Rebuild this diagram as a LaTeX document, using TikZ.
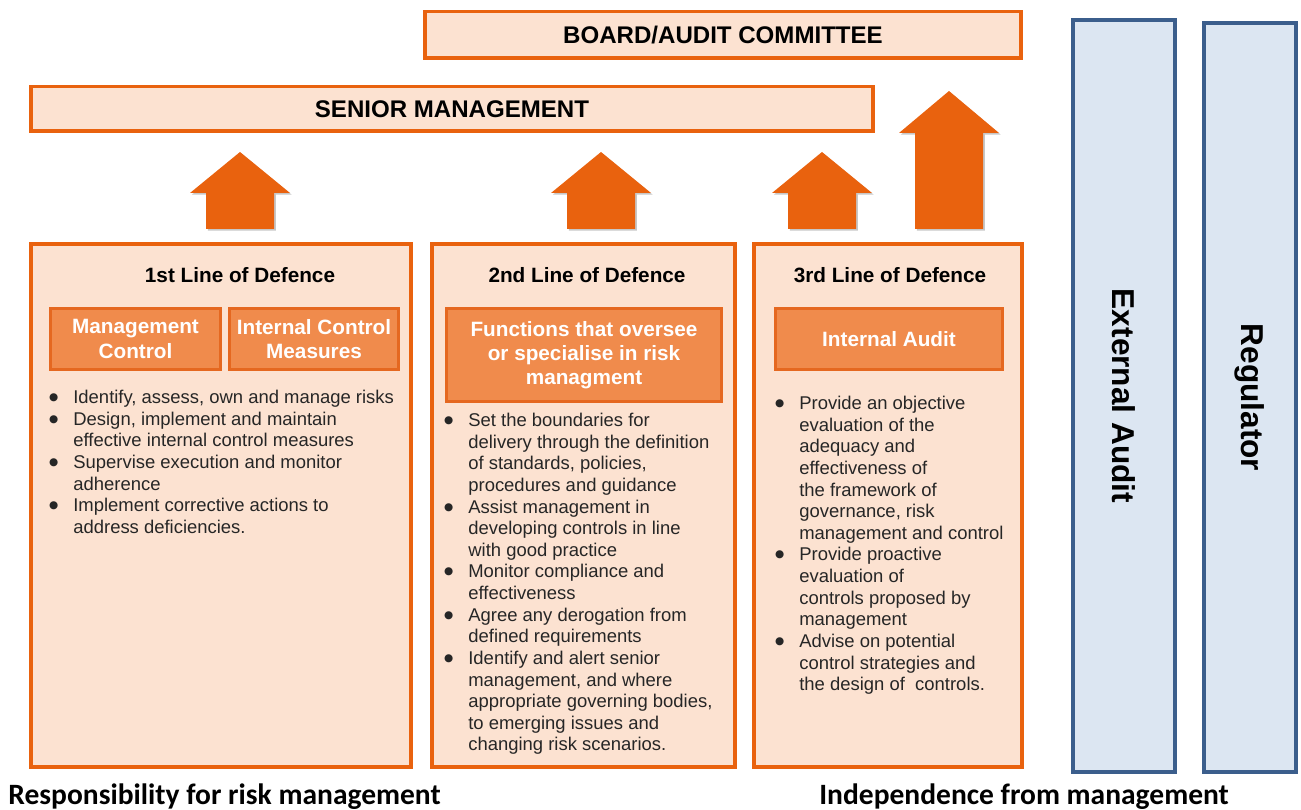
\documentclass[tikz,border=0pt]{standalone}
\usepackage{fontspec}
\setmainfont{Liberation Sans}
\newfontfamily\captionfont{Carlito}
\newfontfamily\dotfont{DejaVu Sans}
\usetikzlibrary{positioning}

\definecolor{lodorange}{RGB}{233,98,14}
\definecolor{lodpeach}{RGB}{252,226,209}
\definecolor{subfill}{RGB}{240,139,76}
\definecolor{subline}{RGB}{229,104,32}
\definecolor{sidefill}{RGB}{220,230,242}
\definecolor{sideline}{RGB}{59,94,140}

\tikzset{
  topbar/.style={draw=lodorange, fill=lodpeach, line width=0.07cm, inner sep=0pt,
    font=\fontsize{13.7}{16}\selectfont\bfseries},
  lodbox/.style={draw=lodorange, fill=lodpeach, line width=0.07cm, inner sep=0pt},
  subbox/.style={draw=subline, fill=subfill, line width=0.06cm, inner sep=0pt,
    text=white, align=center, font=\fontsize{11.8}{13.8}\selectfont\bfseries},
  lodtitle/.style={font=\fontsize{11.8}{14}\selectfont\bfseries},
  bullets/.style={anchor=north west, align=left, inner sep=0pt,
    font=\fontsize{10.5}{12.3}\selectfont, text=black!85},
  sidebar/.style={draw=sideline, fill=sidefill, line width=0.08cm, inner sep=0pt},
  sidelabel/.style={rotate=-90, font=\fontsize{18}{20}\selectfont\bfseries},
  footlabel/.style={anchor=west, inner sep=0pt, font=\captionfont\fontsize{16.8}{18}\selectfont\bfseries}
}

% bullet hanging to the left of a line
\newcommand{\itm}{\llap{\raisebox{1.8pt}{\dotfont\fontsize{6}{6}\selectfont ●}\hspace{0.3cm}}}
% block arrow: centre x, tip y, head base y
\newcommand{\lodarrow}[3]{%
  \fill[black!22, xshift=0.035cm, yshift=-0.035cm] (#1,#2) -- (#1+50,#3) -- (#1+34,#3)
    -- (#1+34,229) -- (#1-34,229) -- (#1-34,#3) -- (#1-50,#3) -- cycle;
  \fill[lodorange] (#1,#2) -- (#1+50,#3) -- (#1+34,#3)
    -- (#1+34,229) -- (#1-34,229) -- (#1-34,#3) -- (#1-50,#3) -- cycle;
}

\begin{document}
\begin{tikzpicture}[x=0.02cm, y=-0.02cm]
    \useasboundingbox (0,0) rectangle (1301,810);

    % Top bars
    \node[topbar, minimum width=11.93cm, minimum height=0.93cm] (board) at (723,35) {BOARD/AUDIT COMMITTEE};
    \node[topbar, minimum width=16.85cm, minimum height=0.89cm] (senior) at (452,109) {SENIOR MANAGEMENT};

    % Arrows up to management and board
    \lodarrow{240}{152}{193}
    \lodarrow{601}{152}{193}
    \lodarrow{822}{152}{193}
    \lodarrow{949}{91}{133}

    % Three lines of defence
    \node[lodbox, minimum width=7.61cm, minimum height=10.47cm] (first) at (221,505.5) {};
    \node[lodbox, minimum width=6.07cm, minimum height=10.47cm] (second) at (583.5,505.5) {};
    \node[lodbox, minimum width=5.37cm, minimum height=10.47cm] (third) at (888,505.5) {};

    \node[lodtitle] (firsttitle) at (240,275) {1st Line of Defence};
    \node[lodtitle] (secondtitle) at (587,275) {2nd Line of Defence};
    \node[lodtitle] (thirdtitle) at (890,275) {3rd Line of Defence};

    \node[subbox, minimum width=3.40cm, minimum height=1.22cm] (mgmt) at (135.5,339) {Management\\Control};
    \node[subbox, minimum width=3.38cm, minimum height=1.22cm] (icm) at (314,339) {Internal Control\\Measures};
    \node[subbox, minimum width=5.50cm, minimum height=1.86cm] (func) at (584,355) {Functions that oversee\\or specialise in risk\\managment};
    \node[subbox, minimum width=4.54cm, minimum height=1.22cm] (ia) at (889,339) {Internal Audit};

    % Bullet lists
    \node[bullets] (firsttext) at (73,390) {%
        \itm Identify, assess, own and manage risks\\
        \itm Design, implement and maintain\\
        effective internal control measures\\
        \itm Supervise execution and monitor\\
        adherence\\
        \itm Implement corrective actions to\\
        address deficiencies.};
    \node[bullets] (secondtext) at (468,413) {%
        \itm Set the boundaries for\\
        delivery through the definition\\
        of standards, policies,\\
        procedures and guidance\\
        \itm Assist management in\\
        developing controls in line\\
        with good practice\\
        \itm Monitor compliance and\\
        effectiveness\\
        \itm Agree any derogation from\\
        defined requirements\\
        \itm Identify and alert senior\\
        management, and where\\
        appropriate governing bodies,\\
        to emerging issues and\\
        changing risk scenarios.};
    \node[bullets] (thirdtext) at (799,396) {%
        \itm Provide an objective\\
        evaluation of the\\
        adequacy and\\
        effectiveness of\\
        the framework of\\
        governance, risk\\
        management and control\\
        \itm Provide proactive\\
        evaluation of\\
        controls proposed by\\
        management\\
        \itm Advise on potential\\
        control strategies and\\
        the design of\ \ controls.};

    % External parties
    \node[sidebar, minimum width=2.04cm, minimum height=15.04cm] (extaudit) at (1124,396) {};
    \node[sidebar, minimum width=1.84cm, minimum height=14.98cm] (regulator) at (1250,397.5) {};
    \node[sidelabel] (extlabel) at (extaudit.center) {External Audit};
    \node[sidelabel] (reglabel) at (regulator.center) {Regulator};

    % Captions
    \node[footlabel] (resp) at (8,797) {Responsibility for risk management};
    \node[footlabel] (indep) at (819,797) {Independence from management};
\end{tikzpicture}
\end{document}
